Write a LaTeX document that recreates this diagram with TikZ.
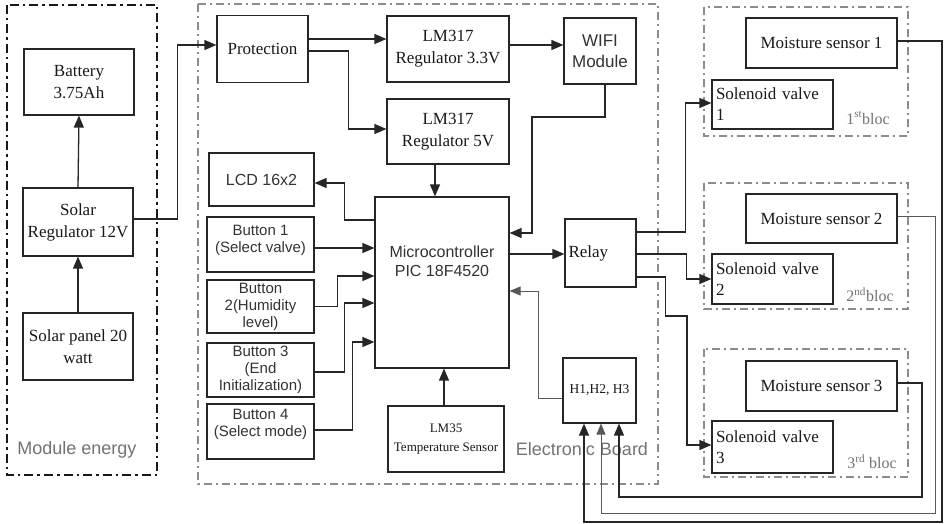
\documentclass[tikz,border=0pt]{standalone}
\usepackage{fontspec}
\setmainfont{Liberation Serif}
\setsansfont{Liberation Sans}
\usetikzlibrary{arrows.meta}
\begin{document}
\begin{tikzpicture}[x=1pt,y=-1pt,
  wh/.style 2 args={minimum width=#1pt, minimum height=#2pt},
  box/.style={draw=black!85, line width=1.2pt, inner sep=2pt, align=center, text=black!90,
    font=\fontsize{17}{22}\selectfont},
  sbox/.style={box, font=\sffamily\fontsize{15}{17}\selectfont, text=black!80},
  arr/.style={line width=1.3pt, draw=black!85, -{Triangle[length=12pt,width=10pt]}},
  thin arr/.style={arr, line width=0.9pt, draw=black!65},
  frame/.style={line width=1.6pt, draw=black!45, dash pattern=on 8pt off 4pt on 2pt off 4pt},
  lbl/.style={text=black!55, font=\sffamily\fontsize{18}{20}\selectfont},
  bloclbl/.style={text=black!55, font=\fontsize{16}{18}\selectfont}]
\useasboundingbox (0,0) rectangle (945,524);
\fill[white] (0,0) rectangle (945,524);

% frames
\draw[frame, draw=black!90, line width=2.2pt, dash pattern=on 9pt off 4pt on 2.5pt off 4pt] (7,5) rectangle (157,475);
\draw[frame] (198,4) rectangle (658,484);
\draw[frame] (704,7) rectangle (908,136);
\draw[frame] (704,183) rectangle (908,309);
\draw[frame] (704,349) rectangle (908,477);

\node[lbl] (lblenergy) at (77,450) {Module energy};
\node[lbl] (lblboard) at (582,449) {Electronic Board};
\node[bloclbl] (lbl1) at (868,118) {1\textsuperscript{st}bloc};
\node[bloclbl] (lbl2) at (870,295) {2\textsuperscript{nd}bloc};
\node[bloclbl] (lbl3) at (872,462) {3\textsuperscript{rd} bloc};

% energy module
\node[box, wh={110}{66}] (bat) at (79,82) {Battery\\3.75Ah};
\node[box, wh={110}{68}] (sreg) at (78,222) {Solar\\Regulator 12V};
\node[box, wh={110}{67}] (panel) at (78,346.5) {Solar panel 20\\watt};

% electronic board
\node[box, wh={91}{67}] (prot) at (262.5,49) {Protection};
\node[box, wh={122}{66}] (lm33) at (448,49) {LM317\\Regulator 3.3V};
\node[box, wh={122}{65}] (lm5) at (448,131.5) {LM317\\Regulator 5V};
\node[sbox, wh={72}{66}, font=\sffamily\fontsize{17}{21}\selectfont] (wifi) at (600,51) {WIFI\\Module};
\node[sbox, wh={105}{53}, font=\sffamily\fontsize{16}{18}\selectfont] (lcd) at (261.5,179.5) {LCD 16x2};
\node[sbox, wh={107}{55}] (b1) at (260.5,244.5) {Button 1\\(Select valve)\\[-6pt]\mbox{}};
\node[sbox, wh={107}{53}] (b2) at (260.5,306.5) {Button\\2(Humidity\\level)};
\node[sbox, wh={107}{54}] (b3) at (260.5,370) {Button 3\\(End\\Initialization)};
\node[sbox, wh={107}{55}] (b4) at (260.5,431.5) {Button 4\\(Select mode)\\\mbox{}};
\node[box, wh={134}{171}] (mcu) at (442,282.5) {};
\node[font=\sffamily\fontsize{16}{19}\selectfont, text=black!80, align=center] (mcutxt) at (442,261) {Microcontroller\\PIC 18F4520};
\node[box, wh={116}{66}, font=\fontsize{13}{19}\selectfont] (lm35) at (446,439) {LM35\\Temperature Sensor};
\node[box, wh={71}{68}, text width=64pt, align=left] (relay) at (600.5,253) {Relay};
\node[box, wh={73}{65}, font=\fontsize{13.5}{16}\selectfont] (hbox) at (599.5,390.5) {H1,H2, H3};

% blocs
\node[box, wh={151}{50}] (ms1) at (821.5,43) {Moisture sensor 1};
\node[box, wh={121}{49}, text width=113pt, align=left, font=\fontsize{17}{21}\selectfont] (sv1) at (772.5,104.5) {Solenoid valve\\1};
\node[box, wh={151}{49}] (ms2) at (821.5,218.5) {Moisture sensor 2};
\node[box, wh={121}{50}, text width=113pt, align=left, font=\fontsize{17}{21}\selectfont] (sv2) at (772.5,279) {Solenoid valve\\2};
\node[box, wh={151}{50}] (ms3) at (821.5,386) {Moisture sensor 3};
\node[box, wh={121}{52}, text width=113pt, align=left, font=\fontsize{17}{21}\selectfont] (sv3) at (772.5,447) {Solenoid valve\\3};

% energy connectors
\draw[arr] (panel.north) -- (sreg.south);
\draw[arr] (sreg.north) -- (bat.south);
\draw[arr] ([yshift=3pt]sreg.east) -- ++(44,0) |- ([yshift=4pt]prot.west);

% board connectors
\draw[arr] ([yshift=10pt]prot.east) -- ([yshift=10pt]lm33.west);
\draw[arr] ([yshift=-2pt]prot.east) -- ++(40,0) |- ([yshift=2.5pt]lm5.west);
\draw[arr] ([yshift=4pt]lm33.east) -- ([yshift=4pt]lm33.east -| wifi.west);
\draw[arr] ([xshift=5pt]wifi.south) |- (532,117) |- ([yshift=49.5pt]mcu.east);
\draw[arr] ([xshift=-13pt]lm5.south) -- ([xshift=-13pt]lm5.south |- mcu.north);
\draw[arr] ([yshift=62.5pt]mcu.west) -- ++(-30,0) |- ([yshift=-3.5pt]lcd.east);
\draw[arr] ([yshift=-3.5pt]b1.east) -- ([yshift=-3.5pt]b1.east -| mcu.west);
\draw[arr] (b2.east) -- ++(23,0) |- ([yshift=6.5pt]mcu.west);
\draw[arr] ([yshift=-2pt]b3.east) -- ++(30,0) |- ([yshift=-20.5pt]mcu.west);
\draw[arr] ([yshift=1.5pt]b4.east) -- ++(38,0) |- ([yshift=-59.5pt]mcu.west);
\draw[arr] ([xshift=-2pt]lm35.north) -- ([xshift=-2pt]lm35.north |- mcu.south);
\draw[arr] ([yshift=28.5pt]mcu.east) -- ([yshift=28.5pt]mcu.east -| relay.west);
\draw[thin arr, line width=1pt, -{Triangle[length=11pt,width=9pt]}] ([yshift=-7.5pt]hbox.west) -- ++(-24,0) |- ([yshift=-8.5pt]mcu.east);

% relay to valves
\draw[arr] ([yshift=21pt]relay.east) -- ++(49,0) |- ([yshift=1.5pt]sv1.west);
\draw[arr] ([yshift=-1pt]relay.east) -- ++(50,0) |- (sv2.west);
\draw[arr] ([yshift=-24pt]relay.east) -- ++(29,0) |- (687,316) |- ([yshift=2pt]sv3.west);

% sensors to H1,H2,H3
\draw[arr] ([yshift=2pt]ms1.east) -| (942,522) -| ([xshift=-15.5pt]hbox.south);
\draw[thin arr, line width=1pt, -{Triangle[length=11pt,width=9pt]}] ([yshift=2.5pt]ms2.east) -| (935,513) -| ([xshift=1.5pt]hbox.south);
\draw[arr] ([yshift=3pt]ms3.east) -| (922,497) -| ([xshift=19.5pt]hbox.south);
\end{tikzpicture}
\end{document}
